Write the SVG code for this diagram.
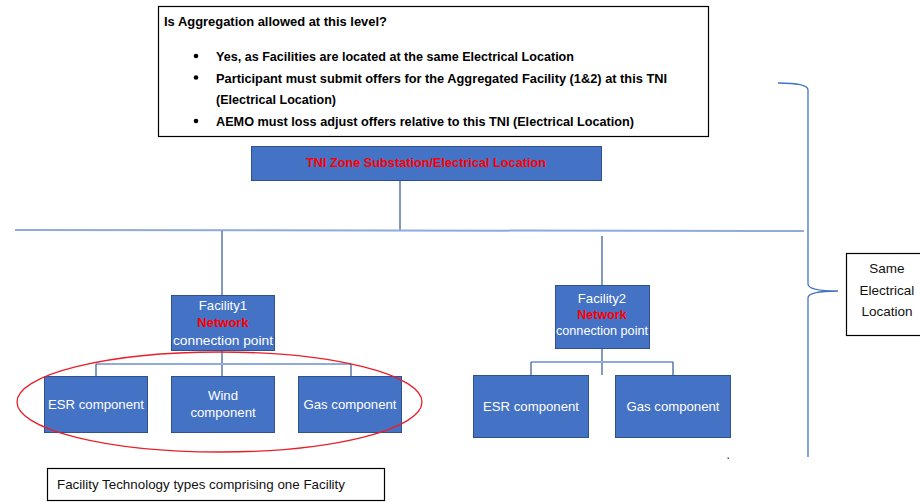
<svg xmlns="http://www.w3.org/2000/svg" width="920" height="502" viewBox="0 0 920 502">
<style>
.t{font-family:"Liberation Sans",Arial,sans-serif}
.b{font-weight:bold}
.box{fill:#4472C4;stroke:#2F528F;stroke-width:1}
.wt{fill:#FFFFFF;font-size:13.2px}
.red{fill:#FF0000;font-weight:bold}
.con{stroke:#2F5597;stroke-width:1.2;fill:none}
.bus{stroke:#8FAADC;stroke-width:2;fill:none}
</style>
<rect width="920" height="502" fill="#FFFFFF"/>

<g id="question">
<rect x="158.5" y="6.5" width="550" height="130" fill="#FFFFFF" stroke="#000000" stroke-width="1.2"/>
<text class="t b" x="164" y="26" font-size="13.5" fill="#000" textLength="223" lengthAdjust="spacingAndGlyphs">Is Aggregation allowed at this level?</text>
<circle cx="196" cy="56" r="2.3" fill="#000"/>
<circle cx="196" cy="77.5" r="2.3" fill="#000"/>
<circle cx="196" cy="121" r="2.3" fill="#000"/>
<text class="t b" x="216" y="61" font-size="13.5" fill="#000" textLength="358" lengthAdjust="spacingAndGlyphs">Yes, as Facilities are located at the same Electrical Location</text>
<text class="t b" x="216" y="82.5" font-size="13.5" fill="#000" textLength="451" lengthAdjust="spacingAndGlyphs">Participant must submit offers for the Aggregated Facility (1&amp;2) at this TNI</text>
<text class="t b" x="216" y="104" font-size="13.5" fill="#000" textLength="120" lengthAdjust="spacingAndGlyphs">(Electrical Location)</text>
<text class="t b" x="216" y="126" font-size="13.5" fill="#000" textLength="418" lengthAdjust="spacingAndGlyphs">AEMO must loss adjust offers relative to this TNI (Electrical Location)</text>
</g>

<g id="connectors">
<line class="con" x1="400" y1="180" x2="400" y2="230" stroke="#8FAADC"/>
<line class="bus" x1="15" y1="230" x2="804" y2="231"/>
<line class="con" x1="222" y1="231" x2="222" y2="295"/>
<line class="con" x1="602" y1="236" x2="602" y2="285"/>
<line class="con" x1="222" y1="350" x2="222" y2="377"/>
<line class="bus" x1="96" y1="364" x2="351" y2="364"/>
<line class="con" x1="96" y1="364" x2="96" y2="377"/>
<line class="con" x1="351" y1="364" x2="351" y2="377"/>
<line class="con" x1="602" y1="348" x2="602" y2="375"/>
<line class="bus" x1="531" y1="362" x2="673" y2="362"/>
<line class="con" x1="531" y1="362" x2="531" y2="375"/>
<line class="con" x1="673" y1="362" x2="673" y2="375"/>
</g>

<g id="tni">
<rect class="box" x="251.5" y="146.5" width="350" height="34"/>
<text class="t red" x="426" y="167" font-size="13.5" text-anchor="middle" textLength="240" lengthAdjust="spacingAndGlyphs">TNI Zone Substation/Electrical Location</text>
</g>

<g id="facility1">
<rect class="box" x="171.5" y="295.5" width="103" height="55"/>
<text class="t wt" x="223" y="309.5" text-anchor="middle">Facility1</text>
<text class="t red" x="223" y="327" font-size="13" text-anchor="middle">Network</text>
<text class="t wt" x="223" y="344.5" text-anchor="middle" textLength="100" lengthAdjust="spacingAndGlyphs">connection point</text>
</g>

<g id="facility2">
<rect class="box" x="555.5" y="285.5" width="94" height="63"/>
<text class="t wt" x="602" y="303" text-anchor="middle" font-size="12.5px">Facility2</text>
<text class="t red" x="602" y="319" font-size="12.5" text-anchor="middle">Network</text>
<text class="t wt" x="602" y="335" text-anchor="middle" font-size="12.5px" textLength="92" lengthAdjust="spacingAndGlyphs">connection point</text>
</g>

<g id="esr1">
<rect class="box" x="44.5" y="376.5" width="103" height="56"/>
<text class="t wt" x="96" y="409" text-anchor="middle">ESR component</text>
</g>
<g id="wind1">
<rect class="box" x="171.5" y="376.5" width="103" height="56"/>
<text class="t wt" x="223" y="400" text-anchor="middle">Wind</text>
<text class="t wt" x="223" y="417" text-anchor="middle">component</text>
</g>
<g id="gas1">
<rect class="box" x="298.5" y="376.5" width="103" height="56"/>
<text class="t wt" x="350" y="409" text-anchor="middle">Gas component</text>
</g>

<g id="esr2">
<rect class="box" x="473.5" y="375.5" width="115" height="62"/>
<text class="t wt" x="531" y="411" text-anchor="middle" font-size="12.5px">ESR component</text>
</g>
<g id="gas2">
<rect class="box" x="615.5" y="375.5" width="115" height="62"/>
<text class="t wt" x="673" y="411" text-anchor="middle" font-size="12.5px">Gas component</text>
</g>

<g id="ellipse">
<ellipse cx="219.5" cy="402" rx="202.5" ry="50" fill="none" stroke="#E8202A" stroke-width="1.3"/>
</g>

<g id="caption">
<rect x="47.5" y="468.5" width="337" height="32" fill="#FFFFFF" stroke="#000000" stroke-width="1.2"/>
<text class="t" x="57" y="489" font-size="13.5" fill="#111" textLength="288" lengthAdjust="spacingAndGlyphs">Facility Technology types comprising one Facility</text>
</g>

<g id="brace">
<path d="M778 83 Q808 83 808 90 L808 284 Q808 291 838 291 Q808 291 808 298 L808 457" fill="none" stroke="#4472C4" stroke-width="1.3"/>
</g>

<g id="same-location">
<rect x="846.5" y="253.5" width="76" height="82" fill="#FFFFFF" stroke="#000000" stroke-width="1.2"/>
<text class="t" x="887" y="273" font-size="13.5" fill="#111" text-anchor="middle">Same</text>
<text class="t" x="887" y="295" font-size="13.5" fill="#111" text-anchor="middle">Electrical</text>
<text class="t" x="887" y="316" font-size="13.5" fill="#111" text-anchor="middle">Location</text>
</g>

<rect x="727.5" y="457.5" width="1.5" height="1.5" fill="#555"/>
</svg>
